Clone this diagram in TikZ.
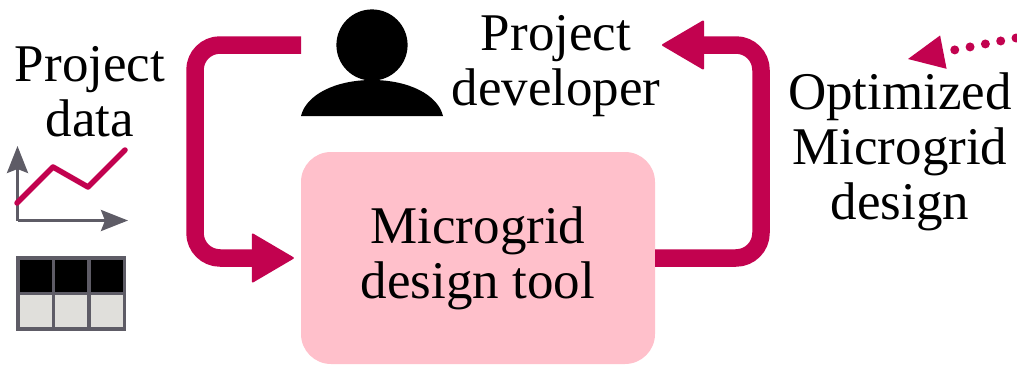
\documentclass[tikz,border=0pt]{standalone}
\usepackage{fontspec}
\setmainfont{Liberation Serif}
\usetikzlibrary{arrows.meta}
\definecolor{mag}{HTML}{C2024F}
\definecolor{rosebox}{HTML}{FFC0CB}
\definecolor{slate}{HTML}{5E5C66}
\definecolor{cellgrey}{HTML}{E0DFDB}
\tikzset{
  flow/.style={draw=mag,line width=17.5pt,rounded corners=25pt,line join=round,
    -{Triangle[length=43pt,width=50pt,line width=2pt,round]}},
  dotline/.style={draw=mag,line width=9pt,line cap=round,dash pattern=on 0pt off 15.6pt,
    -{Triangle[length=36pt,width=34pt,line width=0pt]}},
  axisline/.style={draw=slate,line width=3pt,-{Stealth[length=27pt,width=21pt,inset=4pt]}},
  lbl/.style={font=\fontsize{53}{55}\selectfont,align=center,text=black,inner sep=0pt},
  cell/.style={draw=slate,line width=3.5pt,minimum width=35.6pt,minimum height=35.6pt,inner sep=0pt,outer sep=0pt,anchor=north west},
  cellhead/.style={cell,fill=black},
  cellbody/.style={cell,fill=cellgrey},
}
\begin{document}
\begin{tikzpicture}[x=1pt,y=-1pt]
\useasboundingbox (0,0) rectangle (1017,364);
\node[fill=rosebox,rounded corners=30pt,minimum width=354pt,minimum height=212pt,lbl] (tool) at (478,258) {Microgrid\\design tool};
\node[lbl] (data) at (90,92) {Project\\data};
\node[lbl] (dev) at (556,66) {Project\\developer};
\node[lbl] (opt) at (900,152) {Optimized\\Microgrid\\design};
% person
\fill[black] (372,45) circle (35.6);
\fill[black] (301,116) .. controls (306,95) and (335,80) .. (372,80) .. controls (409,80) and (438,95) .. (443,116) -- cycle;
% connectors
\coordinate (lstart) at (301,45);
\coordinate (rend) at (662,45);
\coordinate (dstart) at (1016,38);
\coordinate (dend) at (908,59);
\draw[flow,shorten >=7pt] (lstart) -- (195,45) -- (195,258) -- (tool.west);
\draw[flow] (tool.east) -- (761,258) -- (761,45) -- (rend);
\draw[dotline] (dstart) -- (dend);
% chart
\coordinate (origin) at (17.5,220.5);
\coordinate (ytip) at (17.5,146);
\coordinate (xtip) at (128,220.5);
\draw[axisline] (origin) -- (ytip);
\draw[axisline] (origin) -- (xtip);
\draw[mag,line width=5.5pt,line cap=round,line join=round] (17,203) -- (53,167) -- (88,187) -- (125,150);
% table
\foreach \c/\x in {1/17.75,2/53.35,3/88.95}{
  \node[cellhead] (h\c) at (\x,258) {};
  \node[cellbody] (b\c) at (\x,293.6) {};
}
\end{tikzpicture}
\end{document}
